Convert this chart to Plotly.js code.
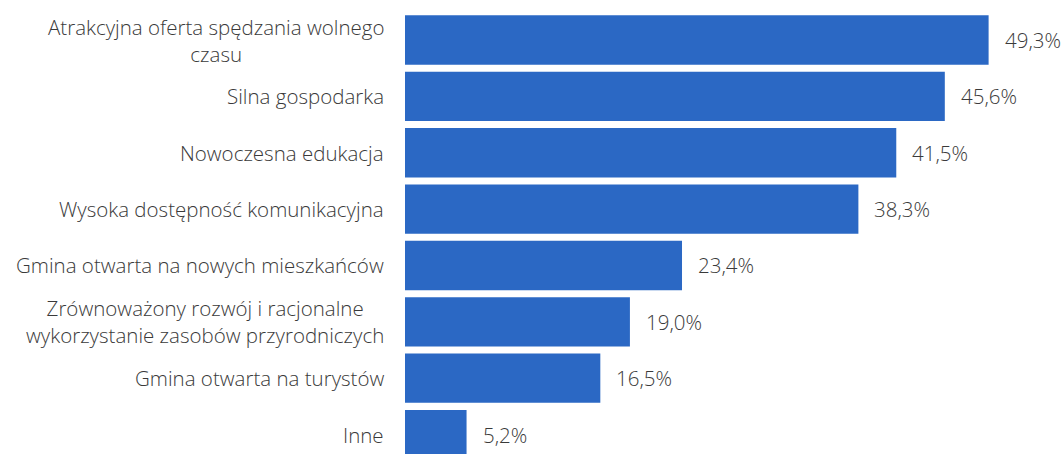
<!DOCTYPE html>
<html>
<head>
<meta charset="utf-8">
<script src="https://cdn.plot.ly/plotly-3.0.1.min.js"></script>
<style>html,body{margin:0;padding:0;background:#fff;}#chart{width:1062px;height:454px;}</style>
</head>
<body>
<div id="chart"></div>
<script>
var categories = [
  "Atrakcyjna oferta spędzania wolnego<br>czasu",
  "Silna gospodarka",
  "Nowoczesna edukacja",
  "Wysoka dostępność komunikacyjna",
  "Gmina otwarta na nowych mieszkańców",
  "Zrównoważony rozwój i racjonalne<br>wykorzystanie zasobów przyrodniczych",
  "Gmina otwarta na turystów",
  "Inne"
];
var values = [49.3, 45.6, 41.5, 38.3, 23.4, 19.0, 16.5, 5.2];
var valueLabels = ["49,3%", "45,6%", "41,5%", "38,3%", "23,4%", "19,0%", "16,5%", "5,2%"];

var textColor = "#3a3a3a";
var fontFam = "'Open Sans', sans-serif";

var annotations = [];
categories.forEach(function (c, i) {
  annotations.push({
    x: 0, y: c, xref: "x", yref: "y",
    text: c, showarrow: false, xanchor: "right", yanchor: "middle",
    align: "center", xshift: -19,
    font: {family: fontFam, size: 20.5, weight: 300, color: textColor}
  });
  annotations.push({
    x: values[i], y: c, xref: "x", yref: "y",
    text: valueLabels[i], showarrow: false, xanchor: "left", yanchor: "middle",
    xshift: 14,
    font: {family: fontFam, size: 20.5, weight: 300, color: textColor}
  });
});

var trace = {
  type: "bar",
  orientation: "h",
  x: values,
  y: categories,
  marker: {color: "#2b68c4"},
  hoverinfo: "none"
};

var layout = {
  width: 1062, height: 454,
  margin: {l: 405, r: 0, t: 0, b: 0},
  paper_bgcolor: "#fff", plot_bgcolor: "#fff",
  showlegend: false,
  bargap: 0.125,
  xaxis: {range: [0, 55.5], visible: false, fixedrange: true},
  yaxis: {type: "category", range: [7.345, -0.71], visible: false, fixedrange: true},
  annotations: annotations
};

Plotly.newPlot("chart", [trace], layout, {displayModeBar: false, staticPlot: true});
</script>
</body>
</html>
